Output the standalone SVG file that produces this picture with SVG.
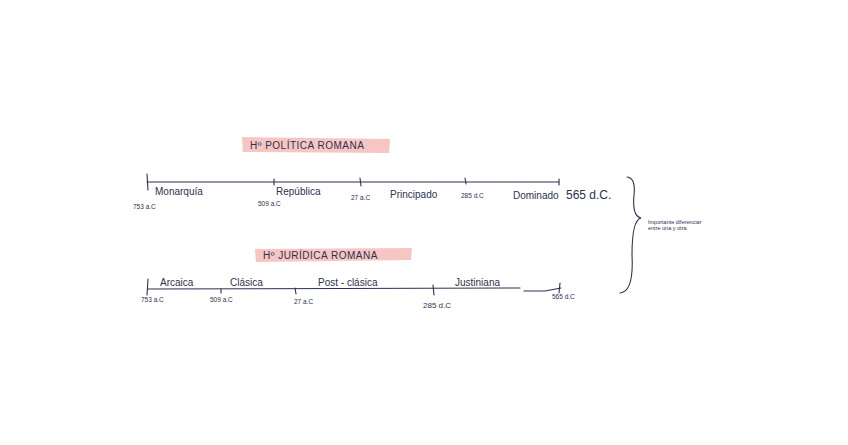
<svg xmlns="http://www.w3.org/2000/svg" width="848" height="445" viewBox="0 0 848 445">
<style>
.ln{stroke:#2d3150;stroke-width:1.1;fill:none;stroke-linecap:round}
.t{font-family:"Liberation Sans",Arial,sans-serif;fill:#2d3150}
.lb{font-size:10px}
.dt{font-size:6.5px}
.ti{font-size:10px;letter-spacing:0.5px}
.hl{fill:#f5bcb8;opacity:0.85}
</style>
<rect width="848" height="445" fill="#ffffff"/>
<g id="title-politica">
<path class="hl" d="M242 137 L390 139 L389 153 L243 152 Z"/>
<text class="t ti" x="250" y="149">Hº POLÍTICA ROMANA</text>
</g>
<g id="title-juridica">
<path class="hl" d="M255 249 L412 248 L411 260 L256 262 Z"/>
<text class="t ti" x="263" y="259">Hº JURÍDICA ROMANA</text>
</g>
<g id="connectors">
<path class="ln" d="M147 182 L559 182"/>
<path class="ln" d="M147 174 L148 190"/>
<path class="ln" d="M274 179 L274 185"/>
<path class="ln" d="M360 178 L361 186"/>
<path class="ln" d="M465 178 L466 184"/>
<path class="ln" d="M559 179 L559 185"/>
<path class="ln" d="M148 289 L520 288 M524 291 L545 291 L561 288"/>
<path class="ln" d="M148 279 L147 295"/>
<path class="ln" d="M221 289 L221 293"/>
<path class="ln" d="M295 288 L296 294"/>
<path class="ln" d="M433 285 L434 295"/>
<path class="ln" d="M560 283 L559 293"/>
<path class="ln" d="M627 177 Q636 178 634 195 Q632 216 641 218 Q632 220 632 255 Q634 292 620 293"/>
</g>
<g id="timeline-politica">
<text class="t lb" x="155" y="195">Monarquía</text>
<text class="t lb" x="276" y="195">República</text>
<text class="t lb" x="390" y="198">Principado</text>
<text class="t lb" x="513" y="199">Dominado</text>
<text class="t" style="font-size:12px" x="566" y="199">565 d.C.</text>
<text class="t dt" x="133" y="209">753 a.C</text>
<text class="t dt" x="258" y="206">509 a.C</text>
<text class="t dt" x="351" y="200">27 a.C</text>
<text class="t dt" x="461" y="198">285 d.C</text>
</g>
<g id="timeline-juridica">
<text class="t lb" x="160" y="286">Arcaica</text>
<text class="t lb" x="230" y="286">Clásica</text>
<text class="t lb" x="318" y="286">Post - clásica</text>
<text class="t lb" x="455" y="286">Justiniana</text>
<text class="t dt" x="141" y="302">753 a.C</text>
<text class="t dt" x="210" y="302">509 a.C</text>
<text class="t dt" x="294" y="304">27 a.C</text>
<text class="t" style="font-size:8px" x="423" y="308">285 d.C</text>
<text class="t dt" x="552" y="299">565 d.C</text>
</g>
<g id="note">
<text class="t" style="font-size:5.5px" x="648" y="224">Importante  diferenciar</text>
<text class="t" style="font-size:5.5px" x="648" y="230">entre una   y otra</text>
</g>
</svg>
